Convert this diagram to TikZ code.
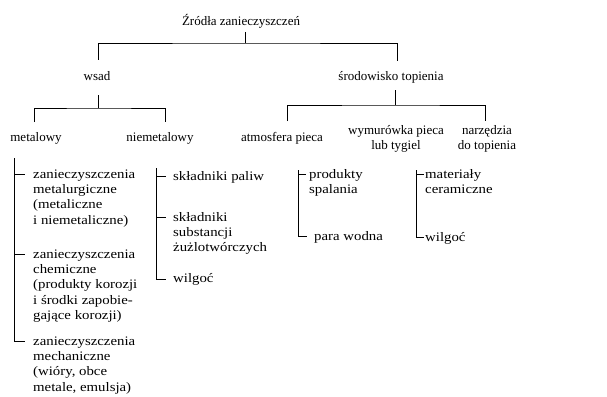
\documentclass[tikz,border=0pt]{standalone}
\usepackage{fontspec}
\setmainfont{Liberation Serif}
\newfontfamily\widefont[FakeStretch=1.14]{Liberation Serif}
\newcommand{\fsz}{\fontsize{13}{15.3}\selectfont}
\begin{document}
\begin{tikzpicture}[x=1pt,y=-1pt,
  lbl/.style={font=\fsz, inner sep=0pt},
  sgl/.style={lbl, anchor=base},
  mll/.style={lbl, font=\widefont\fsz, align=left, anchor=north west},
  mlc/.style={lbl, align=center, anchor=north},
  conn/.style={line width=0.9pt}]
\useasboundingbox (0,0) rectangle (607,396);
% texts
\node[sgl] (title) at (241,26) {Źródła zanieczyszczeń};
\node[sgl] (wsad) at (97,81) {wsad};
\node[sgl] (srod) at (391,81) {środowisko topienia};
\node[sgl] (met) at (36,141) {metalowy};
\node[sgl] (niemet) at (160,141) {niemetalowy};
\node[sgl] (atm) at (282,141) {atmosfera pieca};
\node[mlc] (wym) at (396,123.3) {\strut wymurówka pieca\\lub tygiel};
\node[mlc] (narz) at (487,123.3) {\strut narzędzia\\do topienia};
\node[mll] (m1) at (33,167.3) {\strut zanieczyszczenia\\metalurgiczne\\(metaliczne\\i niemetaliczne)};
\node[mll] (m2) at (33,247.3) {\strut zanieczyszczenia\\chemiczne\\(produkty korozji\\i środki zapobie-\\gające korozji)};
\node[mll] (m3) at (33,334.3) {\strut zanieczyszczenia\\mechaniczne\\(wióry, obce\\metale, emulsja)};
\node[mll] (n1) at (173,169.3) {\strut składniki paliw};
\node[mll] (n2) at (173,210.3) {\strut składniki\\substancji\\żużlotwórczych};
\node[mll] (n3) at (173,271.3) {\strut wilgoć};
\node[mll] (a1) at (309,167.3) {\strut produkty\\spalania};
\node[mll] (a2) at (314,229.3) {\strut para wodna};
\node[mll] (w1) at (425,167.3) {\strut materiały\\ceramiczne};
\node[mll] (w2) at (425,230.3) {\strut wilgoć};
% tree coordinates
\coordinate (tS) at (245,32);
\coordinate (tB) at (245,43);
\coordinate (wT) at (98,60);
\coordinate (sT) at (397,61);
\coordinate (wS) at (98,95);
\coordinate (wB) at (98,108);
\coordinate (metT) at (34,122);
\coordinate (nieT) at (165,122);
\coordinate (sS) at (395,90);
\coordinate (sB) at (395,105);
\coordinate (atmT) at (287,121);
\coordinate (narT) at (485,121);
\draw[conn] (tS) -- (tB);
\draw[conn] (wT) |- (tB) -| (sT);
\draw[conn] (wS) -- (wB);
\draw[conn] (metT) |- (wB) -| (nieT);
\draw[conn] (sS) -- (sB);
\draw[conn] (atmT) |- (sB) -| (narT);
% bracket metalowy
\coordinate (L0) at (14,158);
\coordinate (L1) at (14,174);
\coordinate (L2) at (14,254);
\coordinate (L3) at (14,341);
\draw[conn] (L0) -- (L3) -- ++(11,0);
\draw[conn] (L1) -- ++(11,0);
\draw[conn] (L2) -- ++(11,0);
% bracket niemetalowy
\coordinate (N0) at (156,168);
\coordinate (N1) at (156,176);
\coordinate (N2) at (156,217);
\coordinate (N3) at (156,279);
\draw[conn] (N0) -- (N3) -- ++(10,0);
\draw[conn] (N1) -- ++(10,0);
\draw[conn] (N2) -- ++(10,0);
% bracket atmosfera
\coordinate (A0) at (298,170);
\coordinate (A1) at (298,174);
\coordinate (A3) at (298,236);
\draw[conn] (A0) -- (A3) -- ++(9,0);
\draw[conn] (A1) -- ++(8,0);
% bracket wymurowka
\coordinate (W0) at (416,170);
\coordinate (W1) at (416,174);
\coordinate (W3) at (416,237);
\draw[conn] (W0) -- (W3) -- ++(8,0);
\draw[conn] (W1) -- ++(8,0);
\end{tikzpicture}
\end{document}
